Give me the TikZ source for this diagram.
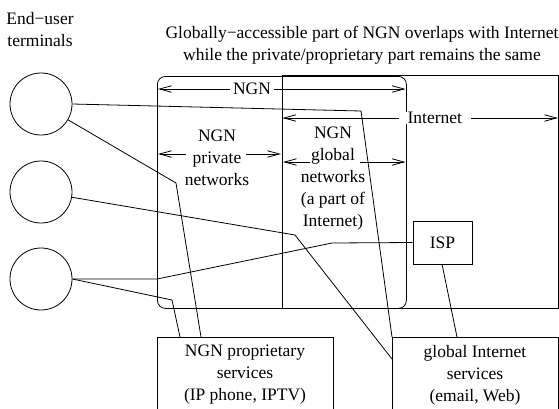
\documentclass[tikz,border=0pt]{standalone}
\usepackage{fontspec}
\setmainfont{Liberation Serif}
\usetikzlibrary{arrows.meta}
\begin{document}
\begin{tikzpicture}[x=1pt,y=-1pt, line width=0.8pt,
  font=\fontsize{17.5}{22}\selectfont,
  term/.style={draw, circle, minimum size=62pt, inner sep=0pt},
  box/.style={draw, inner sep=0pt, align=center},
  lbl/.style={align=center, inner sep=0pt},
  dimarrow/.style={{Straight Barb[length=12pt,width=6.5pt]}-{Straight Barb[length=12pt,width=6.5pt]}},
  lefthead/.style={{Straight Barb[length=12pt,width=6.5pt]}-},
  righthead/.style={-{Straight Barb[length=12pt,width=6.5pt]}},
  link/.style={line width=0.8pt}]
\useasboundingbox (0,0) rectangle (559,408);

% texts on top
\node[lbl] (endlbl) at (40,30) {End−user\\terminals};
\node[lbl] (title) at (362,45.5) {Globally−accessible part of NGN overlaps with Internet\\while the private/proprietary part remains the same};

% regions
\node[draw, rounded corners=8pt, minimum width=249pt, minimum height=232pt, inner sep=0pt, anchor=north west] (ngn) at (157,76) {};
\node[draw, minimum width=276pt, minimum height=233pt, inner sep=0pt, anchor=north west] (inet) at (282,75) {};

% terminals
\node[term] (t1) at (41,104) {};
\node[term] (t2) at (41,192) {};
\node[term] (t3) at (41,279) {};

% boxes
\node[box, minimum width=59pt, minimum height=43pt] (isp) at (442.5,242.5) {ISP};
\node[box, minimum width=176pt, minimum height=78pt, anchor=north west] (prop) at (157,337) {};
\node[lbl] (proptext) at (245,375) {NGN proprietary\\services\\(IP phone, IPTV)};
\node[box, minimum width=166pt, minimum height=78pt, anchor=north west] (gis) at (392,337) {};
\node[lbl] (gistext) at (475,375) {global Internet\\services\\(email, Web)};

% dimension arrows
\coordinate (n1) at (158,89);
\coordinate (n2) at (405.5,89);
\draw[dimarrow] (n1) -- node[pos=0.38, fill=white, inner xsep=3pt, inner ysep=0pt] (ngnlbl) {NGN} (n2);
\coordinate (i1) at (282.5,118);
\coordinate (i2) at (558,118);
\draw[dimarrow] (i1) -- node[pos=0.553, fill=white, inner xsep=9pt, inner ysep=0pt] (inetlbl) {Internet} (i2);

\node[lbl] (priv) at (217,157.5) {NGN\\private\\networks};
\coordinate (p1) at (158,154);
\coordinate (p2) at (186,154);
\coordinate (p3) at (246,154);
\coordinate (p4) at (281,154);
\draw[lefthead] (p1) -- (p2);
\draw[righthead] (p3) -- (p4);

\node[lbl] (glob) at (333,179) {NGN\\global\\networks\\(a part of\\Internet)};
\coordinate (g1) at (283,162);
\coordinate (g2) at (310,162);
\coordinate (g3) at (360,162);
\coordinate (g4) at (405.5,162);
\draw[lefthead] (g1) -- (g2);
\draw[righthead] (g3) -- (g4);

% connectors
\coordinate (a1) at (361,111);
\draw[link] (t1.east) -- (a1) -- (gis.north west);
\coordinate (b1) at (176,183);
\coordinate (b2) at (201,337);
\draw[link] (t1) -- (b1) -- (b2);
\coordinate (c1) at (295,235);
\coordinate (c2) at (392,359);
\draw[link] (t2) -- (c1) -- (c2);
\coordinate (d1) at (157,279);
\coordinate (d2) at (332,243);
\draw[link] (t3.east) -- (d1) -- (d2) -- (isp.west);
\coordinate (e1) at (172,300);
\coordinate (e2) at (180,337);
\draw[link] (t3.east) -- (e1) -- (e2);
\coordinate (f1) at (442,264);
\coordinate (f2) at (457,337);
\draw[link] (f1) -- (f2);
\end{tikzpicture}
\end{document}
